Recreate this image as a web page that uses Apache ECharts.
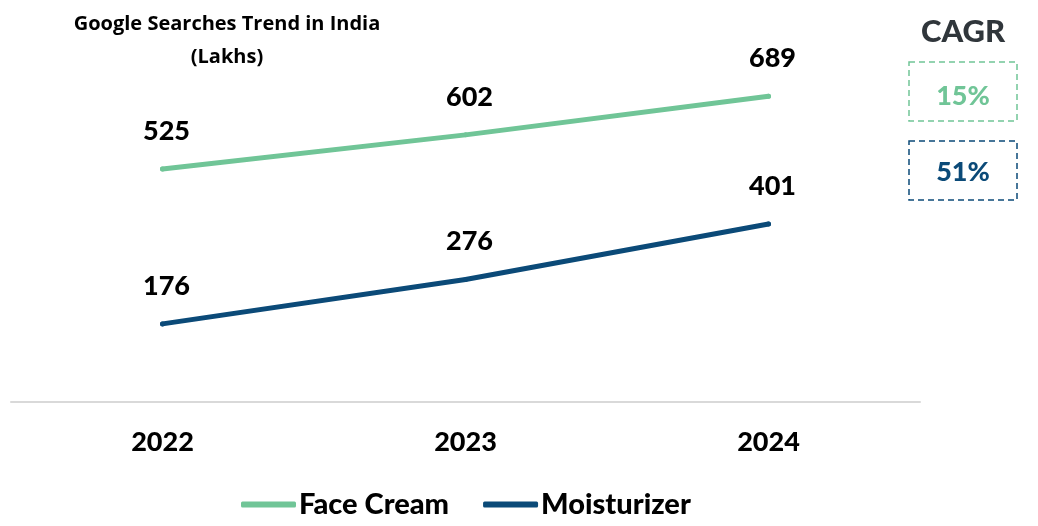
<!DOCTYPE html>
<html><head><meta charset="utf-8">
<script src="https://cdn.jsdelivr.net/npm/echarts@6/dist/echarts.min.js"></script>
<style>html,body{margin:0;padding:0;background:#fff}#c{width:1038px;height:526px}</style>
</head><body><div id="c"></div>
<script>
const categories = ['2022', '2023', '2024'];
const faceCream = [525, 602, 689];
const moisturizer = [176, 276, 401];
const seriesNames = ['Face Cream', 'Moisturizer'];
const cagrLabels = ['15%', '51%'];
const colors = ['#70c597', '#0b4a78'];
const FONT = 'Lato, "Open Sans", sans-serif';
const W = 900;

const chart = echarts.init(document.getElementById('c'));
const lbl = {show: true, position: 'top', distance: 22, offset: [4, 0], color: '#000', fontFamily: FONT, fontWeight: W, fontSize: 27};
chart.setOption({
  animation: false,
  grid: {left: 11, right: 118, top: 47, bottom: 124},
  title: {
    text: 'Google Searches Trend in India\n(Lakhs)',
    left: 222, top: 3, textAlign: 'center',
    textStyle: {fontFamily: '"Open Sans", sans-serif', fontWeight: 'bold', fontSize: 20, color: '#000', lineHeight: 33, align: 'center'}
  },
  legend: {
    bottom: 2, left: 236,
    itemWidth: 55, itemHeight: 6, itemGap: 34, icon: 'roundRect',
    textStyle: {fontFamily: FONT, fontWeight: W, fontSize: 29, color: '#000', padding: [0, 0, 0, -2]},
    data: seriesNames
  },
  xAxis: {
    type: 'category', data: categories, boundaryGap: true,
    axisLine: {lineStyle: {color: '#d9d9d9', width: 2}},
    axisTick: {show: false},
    axisLabel: {margin: 27, color: '#000', fontFamily: FONT, fontWeight: W, fontSize: 27}
  },
  yAxis: {type: 'value', min: 0, max: 800, show: false, splitLine: {show: false}},
  series: [
    {name: seriesNames[0], type: 'line', data: faceCream, color: colors[0], symbol: 'circle', symbolSize: 5,
     lineStyle: {width: 5, cap: 'round'}, label: lbl},
    {name: seriesNames[1], type: 'line', data: moisturizer, color: colors[1], symbol: 'circle', symbolSize: 5,
     lineStyle: {width: 5, cap: 'round'}, label: lbl}
  ],
  graphic: [
    {type: 'text', x: 963, y: 32, style: {text: 'CAGR', fill: '#30363b', font: W + ' 31px ' + FONT, textAlign: 'center', textVerticalAlign: 'middle'}},
    {type: 'rect', shape: {x: 909, y: 62, width: 108, height: 59},
     style: {fill: 'none', stroke: colors[0], lineWidth: 1.5, lineDash: [6, 4]}},
    {type: 'text', x: 963, y: 96, style: {text: cagrLabels[0], fill: colors[0], font: W + ' 27px ' + FONT, textAlign: 'center', textVerticalAlign: 'middle'}},
    {type: 'rect', shape: {x: 909, y: 141, width: 108, height: 59},
     style: {fill: 'none', stroke: colors[1], lineWidth: 1.5, lineDash: [6, 4]}},
    {type: 'text', x: 963, y: 172, style: {text: cagrLabels[1], fill: colors[1], font: W + ' 27px ' + FONT, textAlign: 'center', textVerticalAlign: 'middle'}}
  ]
});
</script></body></html>
